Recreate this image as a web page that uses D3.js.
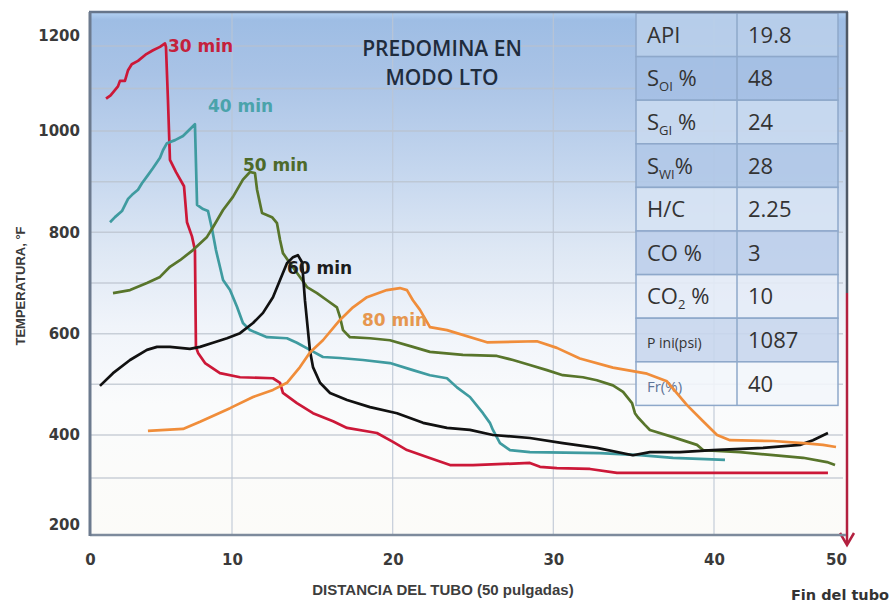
<!DOCTYPE html>
<html>
<head>
<meta charset="utf-8">
<script src="https://cdn.jsdelivr.net/npm/d3@7"></script>
<style>
  html, body { margin: 0; padding: 0; background: #ffffff; }
  svg { display: block; }
</style>
</head>
<body>
<svg id="chart" width="896" height="603"></svg>
<script>
// Perfiles de temperatura a lo largo del tubo de combustión
// distancia en pulgadas, temperatura en °F
const dist30 = [1.13, 1.45, 1.97, 2.11, 2.46, 2.68, 2.94, 3.38, 3.97, 4.44, 4.93, 5.28, 5.35, 5.49, 5.63, 6.06, 6.62, 6.83, 7.18, 7.39, 7.46, 7.61, 8.10, 9.15, 10.50, 12.55, 12.99, 13.17, 14.04, 15.04, 16.29, 17.16, 19.02, 20.02, 20.89, 22.13, 23.57, 25.00, 28.54, 29.17, 30.22, 32.28, 33.96, 49.34];
const temp30 = [1076, 1084, 1105, 1118, 1118, 1143, 1157, 1165, 1181, 1190, 1198, 1206, 1198, 1073, 943, 919, 891, 820, 792, 765, 574, 562, 542, 522, 514, 512, 503, 483, 463, 443, 427, 414, 404, 384, 365, 349, 330, 330, 335, 326, 323, 321, 312, 312];

const dist40 = [1.41, 1.76, 2.25, 2.68, 2.96, 3.38, 3.66, 4.08, 4.44, 4.93, 5.14, 5.42, 5.99, 6.55, 7.39, 7.54, 7.96, 8.31, 8.59, 8.87, 9.15, 9.37, 9.86, 10.31, 10.68, 11.12, 12.18, 13.42, 14.04, 14.85, 15.66, 16.72, 18.15, 19.83, 21.26, 22.32, 23.38, 24.00, 24.81, 25.62, 26.05, 26.24, 26.68, 27.30, 28.54, 32.90, 35.39, 37.45, 40.90];
const temp40 = [820, 830, 842, 866, 874, 884, 897, 913, 927, 947, 962, 976, 982, 990, 1016, 854, 846, 842, 807, 765, 732, 706, 686, 653, 621, 607, 593, 591, 582, 568, 554, 552, 548, 542, 528, 518, 512, 494, 475, 443, 424, 410, 381, 365, 360, 358, 353, 347, 342];

const dist50 = [1.62, 2.82, 4.01, 4.93, 5.63, 6.34, 7.25, 8.24, 8.66, 9.37, 10.06, 10.68, 11.12, 11.43, 11.56, 11.87, 12.49, 12.80, 12.99, 13.17, 13.61, 14.23, 14.67, 15.29, 15.91, 16.53, 16.72, 16.91, 17.34, 18.59, 19.83, 21.26, 22.32, 24.37, 26.49, 27.49, 28.54, 29.60, 30.59, 31.84, 32.71, 33.71, 34.34, 34.90, 35.08, 35.26, 35.70, 36.01, 37.45, 38.94, 39.32, 42.13, 44.84, 47.30, 49.26, 49.92];
const temp50 = [680, 686, 700, 712, 732, 745, 765, 791, 810, 844, 870, 904, 919, 917, 884, 838, 830, 818, 785, 759, 739, 712, 692, 680, 666, 652, 633, 607, 593, 591, 587, 574, 564, 558, 556, 548, 538, 528, 518, 514, 508, 498, 485, 463, 443, 435, 420, 410, 395, 377, 365, 360, 353, 347, 337, 330];

const dist60 = [0.70, 1.62, 2.82, 4.01, 4.72, 5.63, 7.04, 7.75, 8.66, 9.65, 10.50, 11.31, 11.93, 12.55, 12.99, 13.42, 13.80, 14.10, 14.36, 14.54, 14.85, 15.04, 15.48, 16.10, 17.16, 18.59, 20.27, 21.89, 23.38, 24.81, 26.24, 28.54, 30.59, 32.71, 34.95, 36.01, 37.88, 39.94, 44.02, 47.05, 48.11, 49.34];
const temp60 = [497, 522, 548, 568, 574, 574, 570, 574, 582, 591, 601, 621, 641, 672, 706, 739, 751, 755, 741, 666, 567, 534, 503, 483, 469, 455, 443, 424, 414, 410, 400, 393, 381, 370, 353, 360, 360, 365, 370, 377, 388, 404];

const dist80 = [4.08, 6.55, 7.75, 9.86, 11.31, 12.55, 13.42, 14.23, 14.85, 15.66, 16.72, 17.53, 18.40, 19.64, 20.45, 20.89, 21.26, 21.70, 22.32, 23.38, 25.87, 28.98, 30.22, 31.65, 33.71, 35.83, 37.07, 38.32, 39.32, 40.25, 41.31, 44.84, 47.30, 48.93, 50.00];
const temp80 = [408, 412, 426, 453, 475, 489, 503, 534, 563, 587, 627, 652, 672, 686, 690, 686, 666, 647, 613, 607, 583, 585, 572, 551, 533, 521, 506, 459, 427, 400, 388, 386, 381, 377, 372];

const seriesNames = ["30 min", "40 min", "50 min", "60 min", "80 min"];

// Eje X y eje Y
const xTicks = [0, 10, 20, 30, 40, 50];
const yTicks = [200, 400, 600, 800, 1000, 1200];
const yGrid = [300, 400, 500, 600, 700, 800, 900, 1000, 1100, 1200];

// Condiciones iniciales de la prueba
const paramLabels = [["API"], ["S", "OI", " %"], ["S", "GI", " %"], ["S", "WI", "%"], ["H/C"], ["CO %"], ["CO", "2", " %"], ["P ini(psi)"], ["Fr(%)"]];
const paramValues = ["19.8", "48", "24", "28", "2.25", "3", "10", "1087", "40"];

const titleLines = ["PREDOMINA EN", "MODO LTO"];

// ---------------------------------------------------------------
const svg = d3.select("#chart");
const plot = { left: 90, top: 12, right: 846, bottom: 535 };

// escalas calibradas sobre la cuadrícula del gráfico
const x = d3.scaleLinear().domain([0, 10, 40, 50]).range([90, 232, 714, 836]);
const y = d3.scaleLinear().domain([200, 300, 400, 1000, 1200]).range([535, 478, 435, 131, 46]);

const defs = svg.append("defs");
const bg = defs.append("linearGradient").attr("id", "plotBg")
  .attr("x1", 0).attr("y1", 0).attr("x2", 0).attr("y2", 1);
[[0, "#b4d2f3"], [0.015, "#9ebde4"], [0.12, "#a9c3e6"], [0.3, "#c4d6ee"], [0.45, "#dde7f4"],
 [0.6, "#f0f4fa"], [0.75, "#fafbfc"], [1, "#fcfbf8"]].forEach(([o, c]) =>
  bg.append("stop").attr("offset", o).attr("stop-color", c));

svg.append("rect")
  .attr("x", plot.left).attr("y", plot.top)
  .attr("width", plot.right - plot.left).attr("height", plot.bottom - plot.top)
  .attr("fill", "url(#plotBg)");

// cuadrícula
const grid = svg.append("g");
grid.selectAll("line.h").data(yGrid).join("line")
  .attr("x1", plot.left).attr("x2", plot.right - 3)
  .attr("y1", d => y(d)).attr("y2", d => y(d))
  .attr("stroke", "#b9c1cc").attr("stroke-opacity", 0.75).attr("stroke-width", 1.5);
grid.selectAll("line.v").data(xTicks.filter(d => d > 0 && d < 50)).join("line")
  .attr("y1", plot.top).attr("y2", plot.bottom)
  .attr("x1", d => x(d)).attr("x2", d => x(d))
  .attr("stroke", "#bcc6d3").attr("stroke-opacity", 0.8).attr("stroke-width", 1.3);

// tabla de parámetros
const tbl = { x0: 636, xm: 737, x1: 838, y0: 13, rowH: 43.6 };
const lightRow = d3.interpolateRgb("#b9cfeb", "#f3f6fb");
const blueRow = d3.interpolateRgb("#9fbbe2", "#cddaee");
const table = svg.append("g");
table.selectAll("rect").data(paramValues).join("rect")
  .attr("x", tbl.x0).attr("y", (d, i) => tbl.y0 + i * tbl.rowH)
  .attr("width", tbl.x1 - tbl.x0).attr("height", tbl.rowH)
  .attr("fill", (d, i) => i % 2 === 0 ? lightRow(i / 8) : blueRow(i / 8))
  .attr("fill-opacity", 0.88)
  .attr("stroke", "#8ea8ca").attr("stroke-width", 1.5);
table.append("line")
  .attr("x1", tbl.xm).attr("x2", tbl.xm)
  .attr("y1", tbl.y0).attr("y2", tbl.y0 + paramValues.length * tbl.rowH)
  .attr("stroke", "#8ea8ca").attr("stroke-width", 1.5);

const labelText = table.selectAll("text.lab").data(paramLabels).join("text")
  .attr("class", "lab")
  .attr("x", 647)
  .attr("y", (d, i) => tbl.y0 + i * tbl.rowH + tbl.rowH / 2 + 8)
  .attr("font-family", "'Open Sans', sans-serif")
  .attr("font-size", d => d[0].length > 6 ? 14 : (d[0] === "Fr(%)" ? 15 : 22))
  .attr("fill", d => d[0] === "Fr(%)" ? "#5f7598" : "#333333");
labelText.each(function (d) {
  const t = d3.select(this);
  t.append("tspan").text(d[0]);
  if (d.length > 1) {
    t.append("tspan").text(d[1]).attr("font-size", 13).attr("dy", 5);
    t.append("tspan").text(d[2]).attr("dy", -5);
  }
});
table.selectAll("text.val").data(paramValues).join("text")
  .attr("class", "val")
  .attr("x", 748)
  .attr("y", (d, i) => tbl.y0 + i * tbl.rowH + tbl.rowH / 2 + 8)
  .attr("font-family", "'Open Sans', sans-serif")
  .attr("font-size", 22)
  .attr("fill", "#333333")
  .text(d => d);

// marco del área de trazado
const frame = svg.append("g");
frame.append("line").attr("x1", plot.left - 1).attr("x2", plot.right + 2)
  .attr("y1", plot.top).attr("y2", plot.top)
  .attr("stroke", "#66758a").attr("stroke-width", 2.5);
frame.append("line").attr("x1", plot.right + 1).attr("x2", plot.right + 1)
  .attr("y1", plot.top).attr("y2", 293)
  .attr("stroke", "#4f5966").attr("stroke-width", 2.5);

// flecha de fin del tubo
frame.append("line").attr("x1", plot.right + 1).attr("x2", plot.right + 1)
  .attr("y1", 293).attr("y2", 544)
  .attr("stroke", "#b3203f").attr("stroke-width", 2.5);
frame.append("polyline")
  .attr("points", [[plot.right - 6, 533], [plot.right + 1, 545], [plot.right + 8, 533]].map(p => p.join(",")).join(" "))
  .attr("fill", "none").attr("stroke", "#b3203f").attr("stroke-width", 2.5);

// ejes
const xAxis = svg.append("g").attr("transform", `translate(0,${plot.bottom})`)
  .call(d3.axisBottom(x).tickValues(xTicks).tickSize(0).tickPadding(19).tickFormat(d3.format("d")));
xAxis.select(".domain").attr("stroke", "#7d8a9c").attr("stroke-width", 2.5)
  .attr("d", `M${plot.left},0H${plot.right}`);
xAxis.selectAll("text")
  .attr("font-family", "'DejaVu Sans', sans-serif").attr("font-weight", "bold")
  .attr("font-size", 15).attr("fill", "#3a3a3a");

const yAxis = svg.append("g").attr("transform", `translate(${plot.left},0)`)
  .call(d3.axisLeft(y).tickValues(yTicks).tickSize(0).tickPadding(10).tickFormat(d3.format("d")));
yAxis.select(".domain").attr("stroke", "#6c7a8e").attr("stroke-width", 3)
  .attr("d", `M0,${plot.top}V${plot.bottom + 1}`);
yAxis.selectAll("text")
  .attr("font-family", "'DejaVu Sans', sans-serif").attr("font-weight", "bold")
  .attr("font-size", 15).attr("fill", "#3a3a3a")
  .attr("dy", d => d === 1200 ? "-0.35em" : (d === 200 ? "-0.4em" : "0.32em"));

// curvas de temperatura
const series = [
  { name: seriesNames[0], xs: dist30, ys: temp30, color: "#cc1838", label: "#c4213c", at: [168, 46] },
  { name: seriesNames[1], xs: dist40, ys: temp40, color: "#3f9ba0", label: "#4aa3ab", at: [208, 106] },
  { name: seriesNames[2], xs: dist50, ys: temp50, color: "#58752b", label: "#4d6a2a", at: [243, 165] },
  { name: seriesNames[3], xs: dist60, ys: temp60, color: "#111111", label: "#1c1c1c", at: [287, 268] },
  { name: seriesNames[4], xs: dist80, ys: temp80, color: "#f08d3a", label: "#e6974f", at: [362, 320] }
];
const line = d3.line().x(d => x(d[0])).y(d => y(d[1]));
svg.append("g").selectAll("path").data(series).join("path")
  .attr("d", s => line(d3.zip(s.xs, s.ys)))
  .attr("fill", "none")
  .attr("stroke", s => s.color)
  .attr("stroke-width", 2.7)
  .attr("stroke-linejoin", "round");

svg.append("g").selectAll("text").data(series).join("text")
  .attr("x", s => s.at[0]).attr("y", s => s.at[1] + 6)
  .attr("font-family", "'DejaVu Sans', sans-serif").attr("font-weight", "bold")
  .attr("font-size", 17)
  .attr("fill", s => s.label)
  .text(s => s.name);

// título
svg.append("g").selectAll("text").data(titleLines).join("text")
  .attr("x", 442).attr("y", (d, i) => 56 + i * 29)
  .attr("text-anchor", "middle")
  .attr("font-family", "'Open Sans', sans-serif").attr("font-weight", 600)
  .attr("font-size", 21).attr("fill", "#1f2c3d")
  .text(d => d);

// títulos de los ejes
svg.append("text")
  .attr("transform", "translate(25,286) rotate(-90)")
  .attr("text-anchor", "middle")
  .attr("font-family", "'Liberation Sans', Arial, sans-serif").attr("font-weight", "bold")
  .attr("font-size", 13).attr("fill", "#3a3a3a")
  .text("TEMPERATURA, °F");
svg.append("text")
  .attr("x", 443).attr("y", 595)
  .attr("text-anchor", "middle")
  .attr("font-family", "'Liberation Sans', Arial, sans-serif").attr("font-weight", "bold")
  .attr("font-size", 15).attr("fill", "#3d3d3d")
  .text("DISTANCIA DEL TUBO (50 pulgadas)");
svg.append("text")
  .attr("x", 840).attr("y", 600)
  .attr("text-anchor", "middle")
  .attr("font-family", "'DejaVu Sans', sans-serif").attr("font-weight", "bold")
  .attr("font-size", 14.5).attr("fill", "#333333")
  .text("Fin del tubo");
</script>
</body>
</html>
